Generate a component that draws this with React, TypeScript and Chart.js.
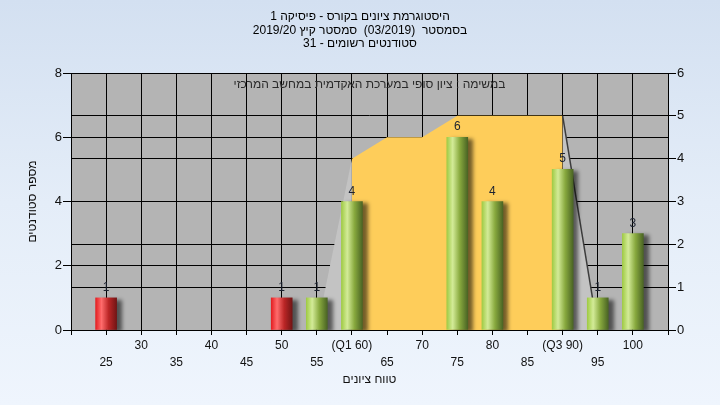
import React, { useEffect, useRef } from 'react';
import { Chart, registerables } from 'chart.js';

Chart.register(...registerables);

const titleLines = [
  'היסטוגרמת ציונים בקורס - פיסיקה 1',
  'בסמסטר  (03/2019)  סמסטר קיץ 2019/20',
  'סטודנטים רשומים - 31',
];
const noteText = 'במשימה : ציון סופי במערכת האקדמית במחשב המרכזי';
const xAxisTitle = 'טווח ציונים';
const yAxisTitle = 'מספר סטודנטים';

// histogram bars (left axis)
const barScores = [25, 50, 55, 60, 75, 80, 90, 95, 100];
const barCounts = [1, 1, 1, 4, 6, 4, 5, 1, 3];
const passScore = 55;

// quartile labels on the x axis
const quartileScores = [60, 90];
const quartileNames = ['(Q1 60)', '(Q3 90)'];

// inter-quartile band (right axis)
const iqrScores = [60, 65, 70, 75, 80, 85, 90];
const iqrLevels = [4, 4.5, 4.5, 5, 5, 5, 5];

// whiskers (right axis)
const lowWhiskerScores = [55, 60];
const lowWhiskerLevels = [0, 4];
const highWhiskerScores = [90, 95];
const highWhiskerLevels = [5, 0];

const FONT = "'Liberation Sans', Arial, 'DejaVu Sans', sans-serif";

function barGradient(ctx: CanvasRenderingContext2D, cx: number, failing: boolean) {
  const g = ctx.createLinearGradient(cx - 10.5, 0, cx + 10.5, 0);
  if (failing) {
    g.addColorStop(0, '#e41f22');
    g.addColorStop(0.28, '#ff6c6c');
    g.addColorStop(0.62, '#bb2626');
    g.addColorStop(1, '#721515');
  } else {
    g.addColorStop(0, '#a0cb45');
    g.addColorStop(0.28, '#d3eb98');
    g.addColorStop(0.62, '#88a93e');
    g.addColorStop(1, '#4a6424');
  }
  return g;
}

export default function App() {
  const ref = useRef<HTMLCanvasElement | null>(null);

  useEffect(() => {
    const canvas = ref.current;
    if (!canvas) return;

    const plotBg = {
      id: 'plotBg',
      beforeDraw(chart: any) {
        const { ctx, chartArea } = chart;
        if (!chartArea) return;
        ctx.save();
        ctx.fillStyle = '#b4b4b4';
        ctx.fillRect(chartArea.left, chartArea.top, chartArea.right - chartArea.left, chartArea.bottom - chartArea.top);
        ctx.restore();
      },
    };

    const barShadow = {
      id: 'barShadow',
      beforeDatasetDraw(chart: any, args: any) {
        if (args.meta.type !== 'bar') return;
        const ctx = chart.ctx;
        ctx.save();
        ctx.shadowColor = 'rgba(0,0,0,0.55)';
        ctx.shadowOffsetX = 5;
        ctx.shadowOffsetY = 2;
        ctx.shadowBlur = 4;
      },
      afterDatasetDraw(chart: any, args: any) {
        if (args.meta.type !== 'bar') return;
        chart.ctx.restore();
      },
    };

    const valueLabels = {
      id: 'valueLabels',
      afterDatasetsDraw(chart: any) {
        const ctx = chart.ctx;
        const { chartArea } = chart;
        chart.data.datasets.forEach((ds: any, i: number) => {
          const meta = chart.getDatasetMeta(i);
          if (meta.type !== 'bar') return;
          meta.data.forEach((el: any, j: number) => {
            ctx.save();
            ctx.font = `12px ${FONT}`;
            ctx.fillStyle = '#1c2230';
            ctx.textAlign = 'center';
            ctx.textBaseline = 'alphabetic';
            ctx.fillText(String(barCounts[j]), el.x, el.y - 7);
            ctx.restore();
          });
        });
        ctx.save();
        ctx.font = `12px ${FONT}`;
        ctx.fillStyle = '#2a2a2a';
        ctx.textAlign = 'center';
        ctx.textBaseline = 'middle';
        ctx.fillText(noteText, (chartArea.left + chartArea.right) / 2, chartArea.top + 12);
        ctx.restore();
      },
    };

    const chart = new Chart(canvas, {
      type: 'bar',
      data: {
        datasets: [
          {
            type: 'bar',
            label: 'students',
            data: barScores.map((s, i) => ({ x: s, y: barCounts[i] })),
            yAxisID: 'y',
            xAxisID: 'x',
            barThickness: 21,
            borderWidth: 0,
            order: 0,
            backgroundColor: (c: any) => {
              const chart = c.chart;
              const xs = chart.scales && chart.scales.x;
              if (c.type !== 'data' || !xs) return '#9c4';
              const s = barScores[c.dataIndex];
              const px = xs.getPixelForValue(s);
              if (!Number.isFinite(px)) return '#9c4';
              return barGradient(chart.ctx, px, s < passScore);
            },
          } as any,
          {
            type: 'line',
            label: 'iqr',
            data: iqrScores.map((s, i) => ({ x: s, y: iqrLevels[i] })),
            yAxisID: 'y2',
            xAxisID: 'x',
            fill: 'origin',
            backgroundColor: '#fecd5a',
            borderColor: '#fecd5a',
            borderWidth: 0,
            pointRadius: 0,
            tension: 0,
            order: 2,
          } as any,
          {
            type: 'line',
            label: 'low',
            data: lowWhiskerScores.map((s, i) => ({ x: s, y: lowWhiskerLevels[i] })),
            yAxisID: 'y2',
            xAxisID: 'x',
            fill: 'origin',
            backgroundColor: '#c3c3c3',
            borderColor: '#c3c3c3',
            borderWidth: 0,
            pointRadius: 0,
            order: 3,
          } as any,
          {
            type: 'line',
            label: 'high',
            data: highWhiskerScores.map((s, i) => ({ x: s, y: highWhiskerLevels[i] })),
            yAxisID: 'y2',
            xAxisID: 'x',
            fill: 'origin',
            backgroundColor: '#c3c3c3',
            borderColor: '#3c3c3c',
            borderWidth: 1.5,
            pointRadius: 0,
            order: 1,
          } as any,
        ],
      },
      options: {
        responsive: false,
        animation: false,
        events: [],
        layout: { padding: 0 },
        plugins: {
          legend: { display: false },
          tooltip: { enabled: false },
          title: {
            display: true,
            text: titleLines,
            color: '#000',
            font: { family: FONT, size: 12, weight: 'normal', lineHeight: 1.1 },
            padding: { top: 10.4, bottom: 23 },
          },
        },
        scales: {
          x: {
            type: 'linear',
            position: 'bottom',
            min: 20,
            max: 105,
            offset: false,
            grid: { color: '#000', lineWidth: 1, tickLength: 5, offset: false, drawTicks: true },
            border: { color: '#000', width: 1 },
            ticks: {
              stepSize: 5,
              autoSkip: false,
              maxRotation: 0,
              minRotation: 0,
              padding: 2,
              color: '#111',
              font: { family: FONT, size: 12, lineHeight: 1.42 },
              callback: (v: any) => {
                const n = Number(v);
                if (n <= 20 || n >= 105) return '';
                const qi = quartileScores.indexOf(n);
                const label = qi >= 0 ? quartileNames[qi] : String(n);
                return n % 10 === 0 ? [label, ''] : ['', label];
              },
            },
            title: {
              display: true,
              text: xAxisTitle,
              color: '#111',
              font: { family: FONT, size: 12 },
              padding: { top: 0, bottom: 17.8 },
            },
            afterFit: (s: any) => { s.height = 75; },
          } as any,
          y: {
            type: 'linear',
            position: 'left',
            min: 0,
            max: 8,
            grid: { color: '#000', lineWidth: 1, tickLength: 8 },
            border: { color: '#000', width: 1 },
            ticks: { stepSize: 2, padding: 1, color: '#111', font: { family: FONT, size: 13 } },
            title: {
              display: true,
              text: yAxisTitle,
              color: '#111',
              font: { family: FONT, size: 12 },
              padding: { top: 25.8, bottom: 0 },
            },
            afterFit: (s: any) => { s.width = 71; },
          } as any,
          y2: {
            type: 'linear',
            position: 'right',
            min: 0,
            max: 6,
            grid: { color: '#000', lineWidth: 1, tickLength: 8 },
            border: { color: '#000', width: 1 },
            ticks: { stepSize: 1, padding: 1, color: '#111', font: { family: FONT, size: 13 } },
            afterFit: (s: any) => { s.width = 52; },
          } as any,
        },
      },
      plugins: [plotBg, barShadow, valueLabels],
    } as any);

    return () => chart.destroy();
  }, []);

  return (
    <div
      style={{
        position: 'absolute',
        left: 0,
        top: 0,
        width: 720,
        height: 405,
        background: 'linear-gradient(to bottom, #d3e0f1 0%, #e4edf8 50%, #eff5fd 100%)',
      }}
    >
      <canvas ref={ref} width={720} height={405} dir="rtl" style={{ width: 720, height: 405, display: 'block' }} />
    </div>
  );
}
